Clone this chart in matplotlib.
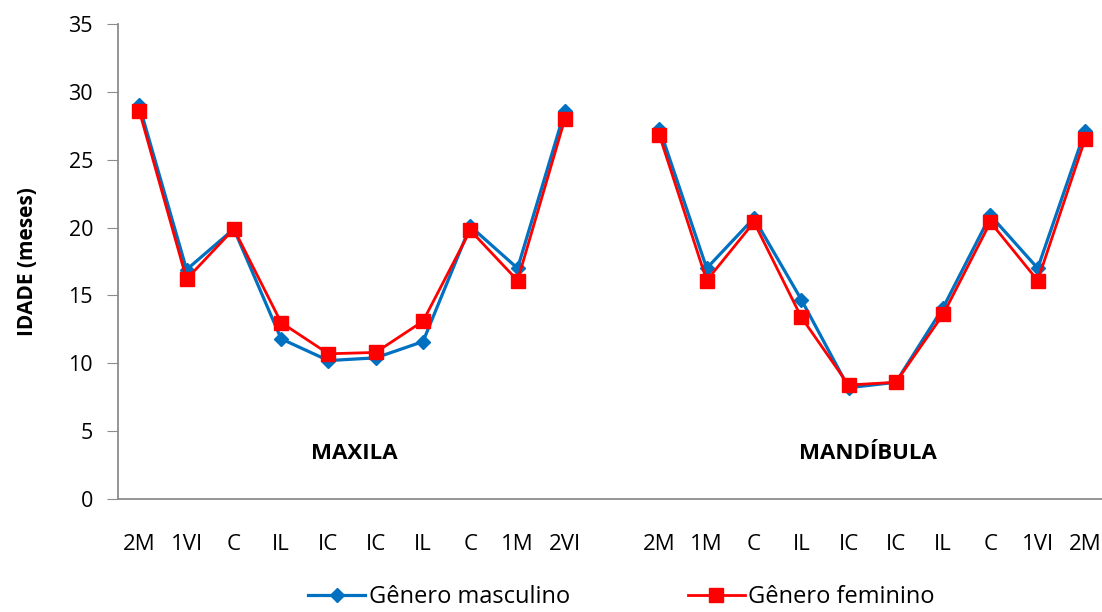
import matplotlib.pyplot as plt
import numpy as np

# categorias (dentes) -- maxila, espaço vazio, mandíbula
dentes = ["2M", "1VI", "C", "IL", "IC", "IC", "IL", "C", "1M", "2VI", "",
          "2M", "1M", "C", "IL", "IC", "IC", "IL", "C", "1VI", "2M"]

masc_maxila = [29.0, 16.9, 19.9, 11.8, 10.2, 10.4, 11.6, 20.1, 17.0, 28.6]
fem_maxila = [28.6, 16.2, 19.9, 13.0, 10.7, 10.8, 13.1, 19.8, 16.1, 28.0]
masc_mand = [27.3, 17.0, 20.7, 14.7, 8.2, 8.6, 14.1, 20.9, 17.0, 27.1]
fem_mand = [26.8, 16.1, 20.4, 13.4, 8.4, 8.6, 13.6, 20.4, 16.1, 26.5]

masc = np.array(masc_maxila + [np.nan] + masc_mand)
fem = np.array(fem_maxila + [np.nan] + fem_mand)
x = np.arange(len(dentes))

plt.rcParams['font.family'] = ['Open Sans', 'DejaVu Sans']

fig = plt.figure(figsize=(11.02, 6.12), dpi=100)
ax = fig.add_axes([118 / 1102, 1 - 499 / 612, 993 / 1102, 475 / 612])

ax.plot(x, masc, color="#0070C0", lw=2.3, marker="D", markersize=7,
        label="Gênero masculino", clip_on=False)
ax.plot(x, fem, color="#FF0000", lw=2.0, marker="s", markersize=10,
        label="Gênero feminino", clip_on=False)

ax.set_xlim(-0.45, 20.55)
ax.set_ylim(0, 35)
ax.set_yticks(np.arange(0, 36, 5))
ax.set_xticks(x)
ax.set_xticklabels(dentes, fontsize=16)
ax.tick_params(axis="x", length=0, pad=25)
ax.tick_params(axis="y", length=8, color="#8C8C8C", labelsize=15.5, pad=10)

for s in ["top", "right"]:
    ax.spines[s].set_visible(False)
for s in ["left", "bottom"]:
    ax.spines[s].set_color("#8C8C8C")
    ax.spines[s].set_linewidth(1.3)

ax.set_ylabel("IDADE (meses)", fontsize=15, fontweight="bold")
ax.yaxis.set_label_coords(-80 / 993, 0.5)

ax.text(4.55, 3.35, "MAXILA", fontsize=16, fontweight="bold", ha="center", va="center")
ax.text(15.4, 3.35, "MANDÍBULA", fontsize=16, fontweight="bold", ha="center", va="center")

fig.legend(loc="lower center", bbox_to_anchor=(0.564, -0.03), ncol=2, frameon=False,
           fontsize=17, handlelength=2.4, handletextpad=0.15, columnspacing=5.0)

fig.savefig("out.png", dpi=100)
